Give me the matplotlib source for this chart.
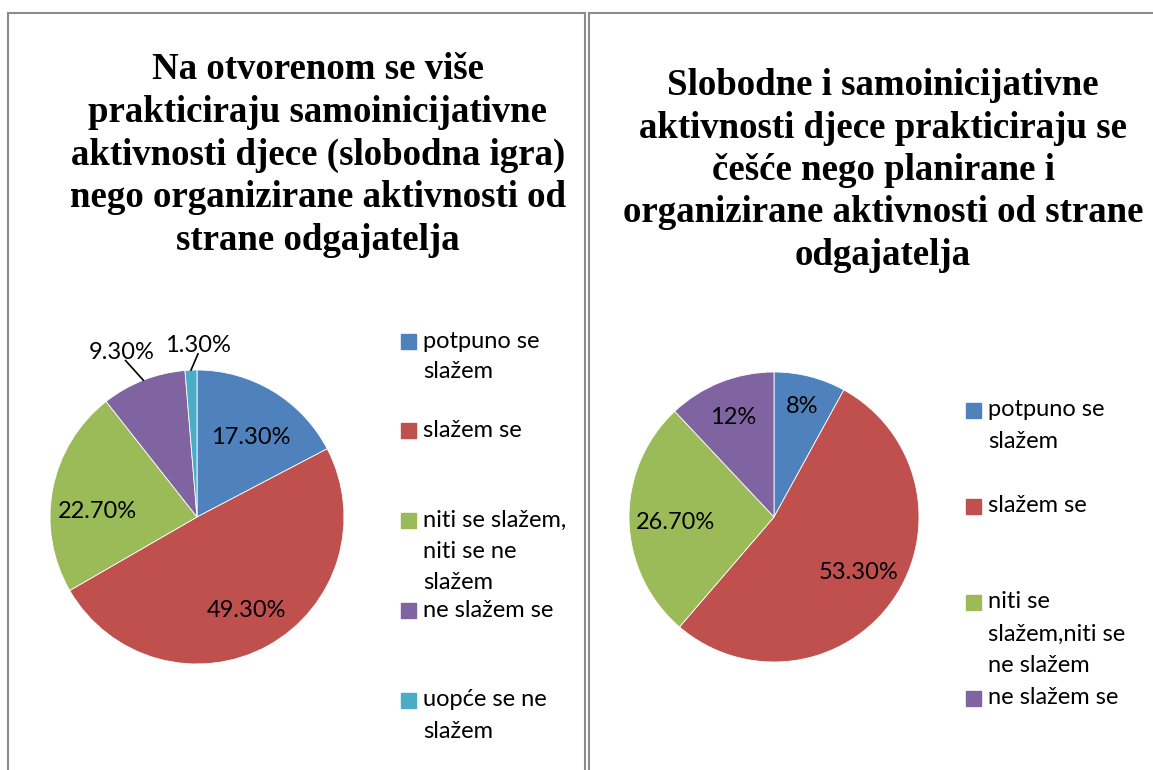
import numpy as np
import matplotlib
matplotlib.use("Agg")
import matplotlib.pyplot as plt
from matplotlib.patches import Rectangle
from matplotlib.lines import Line2D

# Canvas size in pixels (saved at dpi=100).
W, H = 1153, 770

# Left chart data.
left_title = ["Na otvorenom se više",
              "prakticiraju samoinicijativne",
              "aktivnosti djece (slobodna igra)",
              "nego organizirane aktivnosti od",
              "strane odgajatelja"]
left_categories = ["potpuno se\nslažem", "slažem se",
                   "niti se slažem,\nniti se ne\nslažem", "ne slažem se",
                   "uopće se ne\nslažem"]
left_values = [17.3, 49.3, 22.7, 9.3, 1.3]
left_labels = ["17.30%", "49.30%", "22.70%", "9.30%", "1.30%"]

# Right chart data.
right_title = ["Slobodne i samoinicijativne",
               "aktivnosti djece prakticiraju se",
               "češće nego planirane i",
               "organizirane aktivnosti od strane",
               "odgajatelja"]
right_categories = ["potpuno se\nslažem", "slažem se",
                    "niti se\nslažem,niti se\nne slažem", "ne slažem se"]
right_values = [8, 53.3, 26.7, 12]
right_labels = ["8%", "53.30%", "26.70%", "12%"]

colors = ["#4F81BD", "#C0504D", "#9BBB59", "#8064A2", "#4BACC6"]
border_color = "#8c8c8c"
label_font = "Lato"
title_font = "Liberation Serif"


def fx(x):
    return x / W


def fy(y):
    return 1 - y / H


# Draws a pie at pixel centre (cx, cy) with radius r px.
def draw_pie(fig, values, labels, cx, cy, r, label_r, label_shift, leaders):
    half = 200
    ax = fig.add_axes([fx(cx - half), fy(cy + half), 2 * half / W, 2 * half / H])
    wedges, _ = ax.pie(values, colors=colors[:len(values)], startangle=90,
                       counterclock=False, radius=1,
                       wedgeprops=dict(linewidth=0.6, edgecolor="white"))
    # pie() sets its own limits, so fix them afterwards
    lim = half / r
    ax.set_xlim(-lim, lim)
    ax.set_ylim(-lim, lim)
    ax.axis("off")
    for i, w in enumerate(wedges):
        mid = np.radians((w.theta1 + w.theta2) / 2)
        ang = mid + np.radians(label_shift[i])
        rr = label_r[i]
        ax.text(rr * np.cos(ang), rr * np.sin(ang), labels[i],
                ha="center", va="center", fontsize=17, family=label_font)
        if leaders[i]:
            re = rr - 0.06
            ax.add_line(Line2D([np.cos(mid), re * np.cos(ang)],
                               [np.sin(mid), re * np.sin(ang)],
                               color="black", lw=1.2))
    return ax


def draw_legend(fig, categories, x_marker, y_first, step, line_h):
    for i, cat in enumerate(categories):
        y = y_first + i * step
        fig.add_artist(Rectangle((fx(x_marker), fy(y + 7.5)), 15 / W, 15 / H,
                                 transform=fig.transFigure, color=colors[i]))
        for j, line in enumerate(cat.split("\n")):
            fig.text(fx(x_marker + 22), fy(y + j * line_h), line,
                     ha="left", va="center", fontsize=17, family=label_font)


def draw_title(fig, lines, xc, y_base, step):
    for i, line in enumerate(lines):
        fig.text(fx(xc), fy(y_base + i * step), line, ha="center",
                 va="baseline", fontsize=26.6, fontweight="bold",
                 family=title_font)


fig = plt.figure(figsize=(W / 100, H / 100), dpi=100)
fig.patch.set_facecolor("white")

# Table borders around the two charts.
for xs, ys in [([8, 585], [13, 13]), ([8, 8], [13, 770]),
               ([585, 585], [13, 770]), ([589, 589], [13, 770]),
               ([589, 1153], [13, 13])]:
    fig.add_artist(Line2D([fx(x) for x in xs], [fy(y) for y in ys],
                          transform=fig.transFigure, color=border_color, lw=1.5))

# Left chart.
draw_title(fig, left_title, 318, 79, 42.75)
draw_pie(fig, left_values, left_labels, 197, 517, 147,
         label_r=[0.65, 0.72, 0.68, 1.23, 1.17],
         label_shift=[-3, -0.7, 7.6, 3.1, -2.7],
         leaders=[False, False, False, True, True])
draw_legend(fig, left_categories, 401, 341, 89.75, 31)

# Right chart.
draw_title(fig, right_title, 883, 95, 42.5)
draw_pie(fig, right_values, right_labels, 774, 517, 145,
         label_r=[0.785, 0.70, 0.68, 0.745],
         label_shift=[0, 1.3, 2.2, 0.7],
         leaders=[False, False, False, False])
draw_legend(fig, right_categories, 966, 410, 96, 32)

fig.savefig("out.png", dpi=100, facecolor="white")
